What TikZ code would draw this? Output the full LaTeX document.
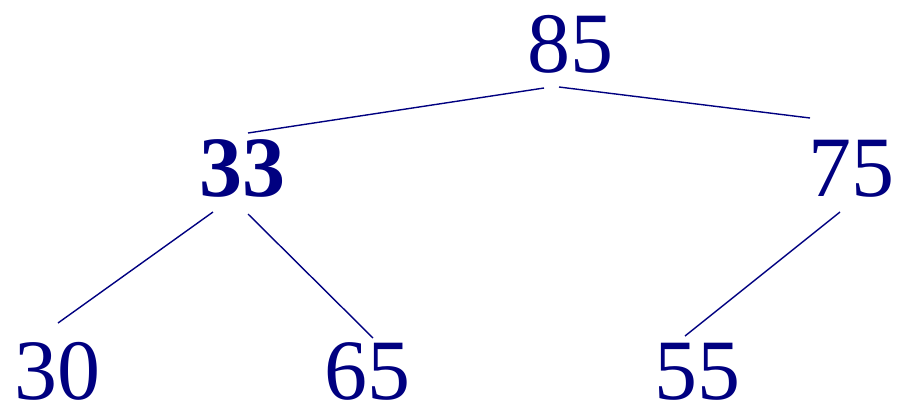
\documentclass[tikz,border=0pt]{standalone}
\usepackage{fontspec}
\setmainfont{Liberation Serif}
\usetikzlibrary{calc}
\definecolor{navy}{RGB}{0,0,128}
\tikzset{
  num/.style={anchor=base, inner sep=0pt, text=navy, font=\fontsize{86}{86}\selectfont},
  edge/.style={draw=navy, line width=1.4pt}
}
\begin{document}
\begin{tikzpicture}[x=1pt,y=-1pt]
\useasboundingbox (0,0) rectangle (899,408);
\node[num] (n85) at (570,72) {85};
\node[num] (n33) at (242,196) {\textbf{33}};
\node[num] (n75) at (851,196) {75};
\node[num] (n30) at (57,399) {30};
\node[num] (n65) at (367,399) {65};
\node[num] (n55) at (697,399) {55};
\coordinate (a1) at ($(n85.base)+(-26,16)$);
\coordinate (b1) at ($(n33.base)+(6,-63)$);
\coordinate (a2) at ($(n85.base)+(-11,15)$);
\coordinate (b2) at ($(n75.base)+(-41,-78)$);
\coordinate (a3) at ($(n33.base)+(-29,16)$);
\coordinate (b3) at ($(n30.base)+(1,-76)$);
\coordinate (a4) at ($(n33.base)+(6,18)$);
\coordinate (b4) at ($(n65.base)+(6,-61)$);
\coordinate (a5) at ($(n75.base)+(-11,16)$);
\coordinate (b5) at ($(n55.base)+(-12,-63)$);
\draw[edge] (a1) -- (b1);
\draw[edge] (a2) -- (b2);
\draw[edge] (a3) -- (b3);
\draw[edge] (a4) -- (b4);
\draw[edge] (a5) -- (b5);
\end{tikzpicture}
\end{document}
